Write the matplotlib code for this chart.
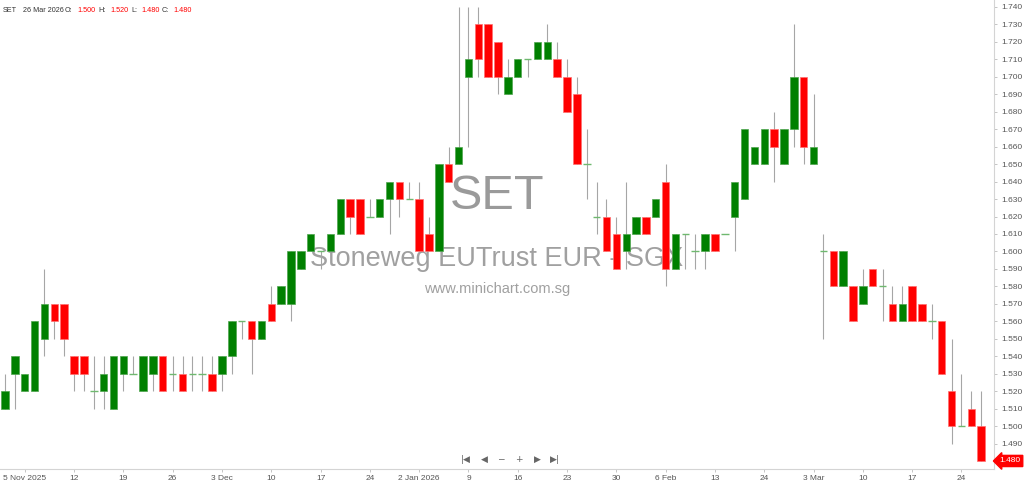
import numpy as np
import matplotlib.pyplot as plt

# OHLC werte, ein Eintrag pro Handelstag (3 Nov 2025 - 26 Mar 2026)
opens = [1.51, 1.53, 1.52, 1.52, 1.55, 1.57, 1.57, 1.54, 1.54, 1.52,
         1.52, 1.51, 1.53, 1.53, 1.52, 1.53, 1.54, 1.53, 1.53, 1.53,
         1.53, 1.53, 1.53, 1.54, 1.56, 1.56, 1.55, 1.57, 1.57, 1.57,
         1.59, 1.60, 1.60, 1.60, 1.61, 1.63, 1.63, 1.62, 1.62, 1.63,
         1.64, 1.63, 1.63, 1.61, 1.60, 1.65, 1.65, 1.70, 1.73, 1.73,
         1.72, 1.69, 1.70, 1.71, 1.71, 1.71, 1.71, 1.70, 1.69, 1.65,
         1.62, 1.62, 1.61, 1.60, 1.61, 1.62, 1.62, 1.64, 1.59, 1.61,
         1.60, 1.60, 1.61, 1.61, 1.62, 1.63, 1.65, 1.65, 1.67, 1.65,
         1.67, 1.70, 1.65, 1.60, 1.60, 1.58, 1.58, 1.57, 1.59, 1.58,
         1.57, 1.56, 1.58, 1.57, 1.56, 1.56, 1.52, 1.50, 1.51, 1.50]
highs = [1.53, 1.54, 1.53, 1.56, 1.59, 1.57, 1.57, 1.54, 1.54, 1.54,
         1.54, 1.54, 1.54, 1.54, 1.54, 1.54, 1.54, 1.54, 1.54, 1.54,
         1.54, 1.54, 1.54, 1.56, 1.56, 1.56, 1.56, 1.58, 1.58, 1.60,
         1.60, 1.61, 1.60, 1.61, 1.63, 1.63, 1.63, 1.63, 1.63, 1.64,
         1.64, 1.64, 1.64, 1.62, 1.65, 1.66, 1.74, 1.74, 1.74, 1.73,
         1.72, 1.71, 1.71, 1.71, 1.72, 1.73, 1.72, 1.71, 1.70, 1.67,
         1.64, 1.63, 1.62, 1.64, 1.62, 1.62, 1.63, 1.65, 1.61, 1.61,
         1.61, 1.61, 1.61, 1.61, 1.64, 1.67, 1.66, 1.67, 1.68, 1.67,
         1.73, 1.70, 1.69, 1.61, 1.60, 1.60, 1.58, 1.59, 1.59, 1.59,
         1.58, 1.58, 1.58, 1.57, 1.57, 1.56, 1.55, 1.53, 1.52, 1.52]
lows = [1.51, 1.51, 1.52, 1.52, 1.54, 1.55, 1.54, 1.52, 1.52, 1.51,
        1.51, 1.51, 1.52, 1.53, 1.52, 1.52, 1.52, 1.52, 1.52, 1.52,
        1.52, 1.52, 1.52, 1.53, 1.55, 1.53, 1.55, 1.56, 1.57, 1.56,
        1.59, 1.60, 1.59, 1.60, 1.61, 1.61, 1.61, 1.62, 1.62, 1.61,
        1.62, 1.63, 1.60, 1.60, 1.60, 1.64, 1.65, 1.66, 1.70, 1.70,
        1.69, 1.69, 1.70, 1.70, 1.71, 1.71, 1.70, 1.68, 1.65, 1.63,
        1.61, 1.60, 1.59, 1.59, 1.61, 1.61, 1.62, 1.58, 1.59, 1.59,
        1.59, 1.59, 1.60, 1.61, 1.60, 1.63, 1.65, 1.65, 1.64, 1.65,
        1.66, 1.65, 1.65, 1.55, 1.58, 1.58, 1.56, 1.57, 1.58, 1.56,
        1.56, 1.56, 1.56, 1.56, 1.55, 1.53, 1.49, 1.50, 1.50, 1.48]
closes = [1.52, 1.54, 1.53, 1.56, 1.57, 1.56, 1.55, 1.53, 1.53, 1.52,
          1.53, 1.54, 1.54, 1.53, 1.54, 1.54, 1.52, 1.53, 1.52, 1.53,
          1.53, 1.52, 1.54, 1.56, 1.56, 1.55, 1.56, 1.56, 1.58, 1.60,
          1.60, 1.61, 1.60, 1.61, 1.63, 1.62, 1.61, 1.62, 1.63, 1.64,
          1.63, 1.63, 1.60, 1.60, 1.65, 1.64, 1.66, 1.71, 1.71, 1.70,
          1.70, 1.70, 1.71, 1.71, 1.72, 1.72, 1.70, 1.68, 1.65, 1.65,
          1.62, 1.60, 1.59, 1.61, 1.62, 1.61, 1.63, 1.59, 1.61, 1.61,
          1.60, 1.61, 1.60, 1.61, 1.64, 1.67, 1.66, 1.67, 1.66, 1.67,
          1.70, 1.66, 1.66, 1.60, 1.58, 1.60, 1.56, 1.58, 1.58, 1.58,
          1.56, 1.57, 1.56, 1.56, 1.56, 1.53, 1.50, 1.50, 1.50, 1.48]

x_labels = ["5 Nov 2025", "12", "19", "26", "3 Dec", "10", "17", "24",
            "2 Jan 2026", "9", "16", "23", "30", "6 Feb", "13", "24",
            "3 Mar", "10", "17", "24"]
y_ticks = [1.490, 1.500, 1.510, 1.520, 1.530, 1.540, 1.550, 1.560, 1.570,
           1.580, 1.590, 1.600, 1.610, 1.620, 1.630, 1.640, 1.650, 1.660,
           1.670, 1.680, 1.690, 1.700, 1.710, 1.720, 1.730, 1.740]

ticker = "SET"
name = "Stoneweg EUTrust EUR - SGX"
site = "www.minichart.com.sg"
last_date = "26 Mar 2026"

plt.rcParams['font.family'] = ['Liberation Sans', 'DejaVu Sans']

o = np.array(opens)
h = np.array(highs)
l = np.array(lows)
c = np.array(closes)
idx = np.arange(len(o))

W, H = 1024, 484
fig = plt.figure(figsize=(W / 100, H / 100), dpi=100)
ax = fig.add_axes([0, 15 / H, 994 / W, 469 / H])

# Wasserzeichen hinter den Kerzen
ax.text(0.5, 0.58, ticker, transform=ax.transAxes, ha='center', va='center',
        fontsize=35, color='#9a9a9a', zorder=0)
ax.text(0.5, 0.448, name, transform=ax.transAxes, ha='center', va='center',
        fontsize=19.5, color='#a0a0a0', zorder=0)
ax.text(0.5, 0.384, site, transform=ax.transAxes, ha='center', va='center',
        fontsize=10.5, color='#a0a0a0', zorder=0)

# Dochte
ax.vlines(idx, l, h, color='#a6a6a6', lw=0.8, zorder=2)

up = c > o
down = c < o
doji = c == o
ax.bar(idx[up], (c - o)[up], bottom=o[up], width=0.75, color='#008000',
       edgecolor='#4fa64f', linewidth=0.5, zorder=3)
ax.bar(idx[down], (o - c)[down], bottom=c[down], width=0.75, color='#ff0000',
       edgecolor='#ff7070', linewidth=0.5, zorder=3)
ax.hlines(c[doji], idx[doji] - 0.38, idx[doji] + 0.38, color='#6fb86f',
          lw=1.0, zorder=3)

ax.set_xlim(-0.51, 100.3)
ax.set_ylim(1.4754, 1.7440)

for s in ['top', 'left']:
    ax.spines[s].set_visible(False)
ax.spines['right'].set_color('#d4d4d4')
ax.spines['bottom'].set_color('#d4d4d4')

ax.yaxis.tick_right()
ax.set_yticks(y_ticks)
ax.set_yticklabels([f"{v:.3f}" for v in y_ticks])
ax.tick_params(axis='y', length=2, width=0.6, color='#bbbbbb', labelsize=6,
               labelcolor='#555555', pad=3)

ax.set_xticks(np.arange(2, len(o), 5)[:len(x_labels)])
ax.set_xticklabels(x_labels)
ax.tick_params(axis='x', length=2, width=0.6, color='#bbbbbb', labelsize=6,
               labelcolor='#555555', pad=2)

# letzter Kurs als rote Marke an der Achse
ax.annotate(f"{closes[-1]:.3f}", xy=(1.0, closes[-1]),
            xycoords=('axes fraction', 'data'), xytext=(4, 0),
            textcoords='offset points', ha='left', va='center', fontsize=6,
            color='white',
            bbox=dict(boxstyle='larrow,pad=0.25', fc='#ff0000', ec='#ff0000'),
            annotation_clip=False, zorder=5)

# Kopfzeile
hx = 3 / W
hy = 1 - 10 / H
parts = [(ticker, '#333333', 0), (last_date, '#333333', 20), ("O:", '#333333', 62),
         (f"{opens[-1]:.3f}", '#ff0000', 74), ("H:", '#333333', 95),
         (f"{highs[-1]:.3f}", '#ff0000', 107), ("L:", '#333333', 128),
         (f"{lows[-1]:.3f}", '#ff0000', 138), ("C:", '#333333', 159),
         (f"{closes[-1]:.3f}", '#ff0000', 170)]
for txt, col, px in parts:
    fig.text(hx + px / W, hy, txt, fontsize=5.2, color=col, ha='left', va='center')

# Navigationssymbole
nav = ["|◀", "◀", "−", "+", "▶", "▶|"]
nav_x = [466, 484, 501, 519, 537, 555]
for sym, px in zip(nav, nav_x):
    fig.text(px / W, 1 - 459 / H, sym, fontsize=6.5, color='#666666',
             ha='center', va='center', family=['DejaVu Sans'])

fig.savefig('out.png', dpi=100, facecolor='white')
